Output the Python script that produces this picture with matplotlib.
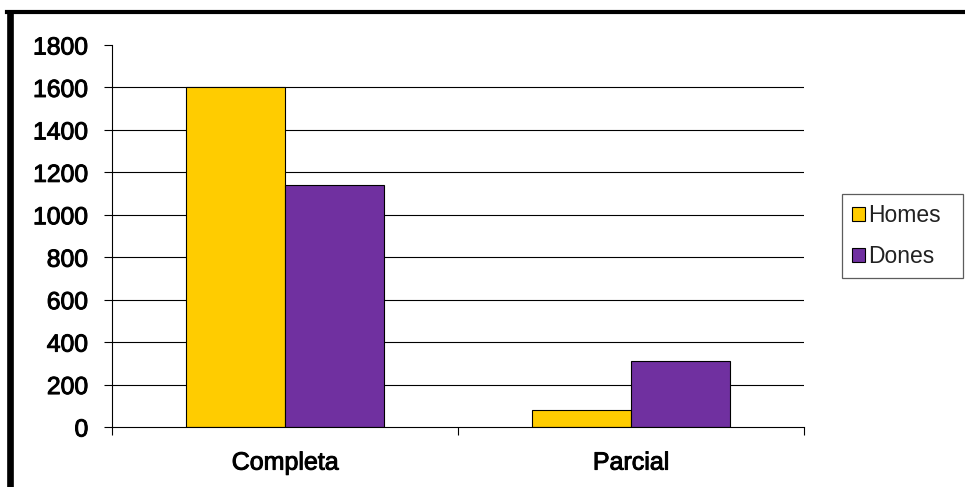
#!/usr/bin/env python3
# Homes / Dones bar chart, Completa vs Parcial (Excel style)
import numpy as np
import matplotlib; matplotlib.use("Agg")
import matplotlib.pyplot as plt
import matplotlib.patheffects as pe
from matplotlib.lines import Line2D

CATS   = ["Completa", "Parcial"]
HOMES  = [1600, 80]
DONES  = [1140, 310]
YTICKS = [0, 200, 400, 600, 800, 1000, 1200, 1400, 1600, 1800]

plt.rcParams["font.family"] = ["Liberation Sans", "DejaVu Sans"]

W, H = 965, 487
fig = plt.figure(figsize=(W/100, H/100), dpi=100)
ax = fig.add_axes([112/W, 60/H, (804-112)/W, (427-45)/H])

# outer frame (top + left edges visible)
fig.add_artist(Line2D([7/W, 1], [1-12/H, 1-12/H], color="black", lw=3.0,
                      transform=fig.transFigure))
fig.add_artist(Line2D([9.5/W, 9.5/W], [0, 1-12/H], color="black", lw=4.8,
                      transform=fig.transFigure, solid_capstyle="butt"))

x = np.arange(len(CATS))
bw = 0.286
ax.hlines(YTICKS[1:-1], -0.5, 1.5, color="black", lw=0.8, zorder=1)
ax.bar(x - bw/2, HOMES, bw, color="#FFCC00", edgecolor="black", lw=0.8,
       label="Homes", zorder=2)
ax.bar(x + bw/2, DONES, bw, color="#7030A0", edgecolor="black", lw=0.8,
       label="Dones", zorder=2)

ax.set_xlim(-0.5, 1.5)
ax.set_ylim(0, 1800)
ax.set_yticks(YTICKS)
ax.set_xticks(x)
ax.set_xticklabels(CATS)
ax.set_xticks([-0.5, 0.5, 1.5], minor=True)
ax.tick_params(axis="x", which="major", length=0, pad=17, labelsize=18)
ax.tick_params(axis="x", which="minor", length=6, width=0.8, direction="out")
ax.tick_params(axis="y", length=6, width=0.8, direction="out", pad=11,
               labelsize=17.8)
# slightly heavier than regular, like the Excel rendering
for t in ax.get_xticklabels() + ax.get_yticklabels():
    t.set_path_effects([pe.withStroke(linewidth=0.7, foreground="black")])
for s in ["top", "right"]:
    ax.spines[s].set_visible(False)
for s in ["left", "bottom"]:
    ax.spines[s].set_linewidth(0.8)
    ax.spines[s].set_zorder(3)

leg = ax.legend(loc="center left", bbox_to_anchor=(842/W, 1-275/H, (963-842)/W, (275-197)/H),
                bbox_transform=fig.transFigure, mode="expand", fontsize=16.5,
                frameon=True, fancybox=False, edgecolor="#333333",
                handlelength=0.55, handleheight=0.55, handletextpad=0.15,
                borderpad=0.45, labelspacing=0.8, borderaxespad=0)
leg.get_frame().set_linewidth(0.9)
for t in leg.get_texts():
    t.set_color("#222222")

fig.savefig("out.png", dpi=100)
